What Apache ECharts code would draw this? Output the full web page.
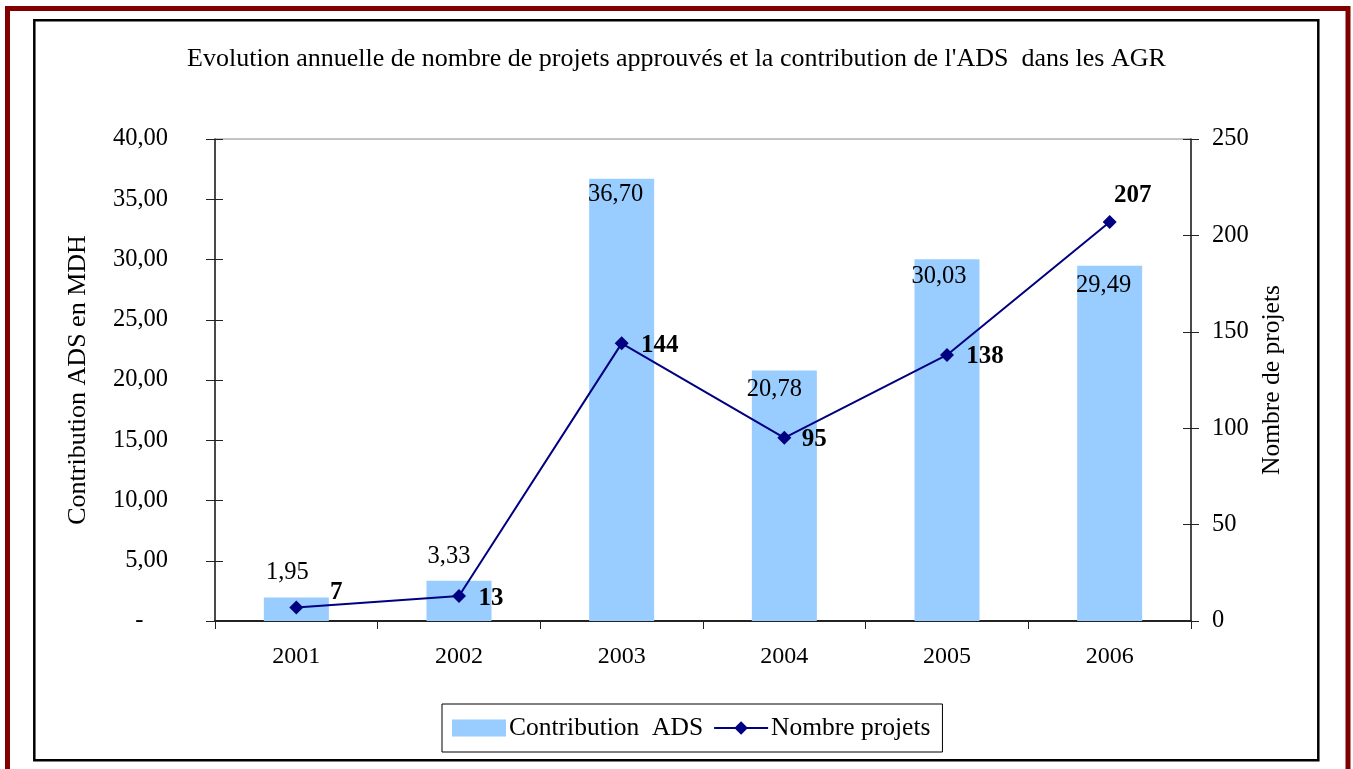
<!DOCTYPE html>
<html>
<head>
<meta charset="utf-8">
<script src="https://cdn.jsdelivr.net/npm/echarts@6/dist/echarts.min.js"></script>
<style>
html,body{margin:0;padding:0;background:#fff;}
#chart{width:1353px;height:769px;}
</style>
</head>
<body>
<div id="chart"></div>
<script>
// ---- data ----
const years = ['2001', '2002', '2003', '2004', '2005', '2006'];
const contribution = [1.95, 3.33, 36.70, 20.78, 30.03, 29.49];
const projets = [7, 13, 144, 95, 138, 207];
const leftTicks = { min: 0, max: 40, interval: 5 };
const rightTicks = { min: 0, max: 250, interval: 50 };
const titleText = "Evolution annuelle de nombre de projets approuvés et la contribution de l'ADS  dans les AGR";
const seriesNames = ['Contribution  ADS', 'Nombre projets'];
const axisNames = ['Contribution ADS en MDH', 'Nombre de projets'];

// ---- label placement (style only) ----
const barLabelPos = ['top', 'top', 'insideTop', 'insideTop', 'insideTop', 'insideTop'];
const barLabelOffset = [[-9, -12], [-10, -12], [-6, 3], [-10, 6], [-8, 5], [-6, 7]];
const lineLabelOffset = [[40, -15], [32, 3], [38, 2], [30, 2], [38, 2], [23, -26]];

const FONT = "'Liberation Serif', 'Times New Roman', serif";
const fmt2 = v => v.toFixed(2).replace('.', ',');

const chart = echarts.init(document.getElementById('chart'), null, { renderer: 'canvas' });

const barData = contribution.map((v, i) => ({
  value: v,
  label: { position: barLabelPos[i], offset: barLabelOffset[i], distance: 0 }
}));
const lineData = projets.map((v, i) => ({
  value: v,
  label: { position: 'inside', offset: lineLabelOffset[i] }
}));

const axisLineStyle = { color: '#222', width: 1.5 };

chart.setOption({
  animation: false,
  backgroundColor: '#fff',
  textStyle: { fontFamily: FONT },
  graphic: [
    { type: 'rect', shape: { x: 7.5, y: 8.5, width: 1340.5, height: 800 }, style: { fill: 'none', stroke: '#800000', lineWidth: 5 }, silent: true },
    { type: 'rect', shape: { x: 34.3, y: 20.3, width: 1284, height: 740 }, style: { fill: 'none', stroke: '#000', lineWidth: 2.5 }, silent: true }
  ],
  title: {
    text: titleText,
    left: 'center',
    top: 41,
    textStyle: { fontFamily: FONT, fontSize: 26, fontWeight: 'normal', color: '#000' }
  },
  legend: {
    left: 442,
    top: 704,
    orient: 'horizontal',
    itemWidth: 54,
    itemHeight: 17,
    itemGap: 10,
    padding: [11, 12, 11, 10],
    borderColor: '#000',
    borderWidth: 1,
    textStyle: { fontFamily: FONT, fontSize: 25.5, color: '#000', padding: [0, 0, 0, -2] },
    data: [
      { name: seriesNames[0], icon: 'rect' },
      { name: seriesNames[1] }
    ]
  },
  grid: {
    left: 215, right: 162, top: 139, bottom: 148,
    show: true, borderColor: '#888', borderWidth: 1, backgroundColor: '#fff'
  },
  xAxis: {
    type: 'category',
    data: years,
    boundaryGap: true,
    axisLine: { lineStyle: { color: '#222', width: 2 } },
    axisTick: { show: true, inside: false, length: 8, alignWithLabel: false, lineStyle: { color: '#222' } },
    axisLabel: { fontFamily: FONT, fontSize: 24, color: '#000', margin: 24 },
    splitLine: { show: false }
  },
  yAxis: [
    {
      type: 'value', position: 'left',
      min: leftTicks.min, max: leftTicks.max, interval: leftTicks.interval,
      name: axisNames[0], nameLocation: 'middle', nameGap: 124, nameRotate: 90,
      nameTextStyle: { fontFamily: FONT, fontSize: 26, color: '#000' },
      axisLine: { show: true, lineStyle: axisLineStyle },
      axisTick: { show: true, inside: false, length: 9, lineStyle: { color: '#222' } },
      axisLabel: { fontFamily: FONT, fontSize: 24.5, color: '#000', margin: 47,
        formatter: v => v === 0 ? '-    ' : fmt2(v) },
      splitLine: { show: false }
    },
    {
      type: 'value', position: 'right',
      min: rightTicks.min, max: rightTicks.max, interval: rightTicks.interval,
      name: axisNames[1], nameLocation: 'middle', nameGap: 66, nameRotate: 90,
      nameTextStyle: { fontFamily: FONT, fontSize: 25.5, color: '#000' },
      axisLine: { show: true, lineStyle: axisLineStyle },
      axisTick: { show: true, inside: false, length: 8, lineStyle: { color: '#222' } },
      axisLabel: { fontFamily: FONT, fontSize: 24.5, color: '#000', margin: 21 },
      splitLine: { show: false }
    },
    {
      type: 'value', position: 'left',
      min: leftTicks.min, max: leftTicks.max, interval: leftTicks.interval,
      axisLine: { show: false },
      axisTick: { show: true, inside: true, length: 8, lineStyle: { color: '#222' } },
      axisLabel: { show: false }, splitLine: { show: false }
    },
    {
      type: 'value', position: 'right',
      min: rightTicks.min, max: rightTicks.max, interval: rightTicks.interval,
      axisLine: { show: false },
      axisTick: { show: true, inside: true, length: 8, lineStyle: { color: '#222' } },
      axisLabel: { show: false }, splitLine: { show: false }
    }
  ],
  series: [
    {
      name: seriesNames[0],
      type: 'bar',
      yAxisIndex: 0,
      data: barData,
      barWidth: 65,
      itemStyle: { color: '#99CCFF' },
      label: {
        show: true,
        fontFamily: FONT, fontSize: 24.5, color: '#000',
        formatter: p => fmt2(p.value)
      }
    },
    {
      name: seriesNames[1],
      type: 'line',
      yAxisIndex: 1,
      data: lineData,
      symbol: 'diamond',
      symbolSize: 14,
      lineStyle: { color: '#000080', width: 2 },
      itemStyle: { color: '#000080' },
      label: {
        show: true,
        fontFamily: FONT, fontSize: 25, fontWeight: 'bold', color: '#000',
        align: 'center', verticalAlign: 'middle'
      },
      z: 5
    }
  ]
});
</script>
</body>
</html>
